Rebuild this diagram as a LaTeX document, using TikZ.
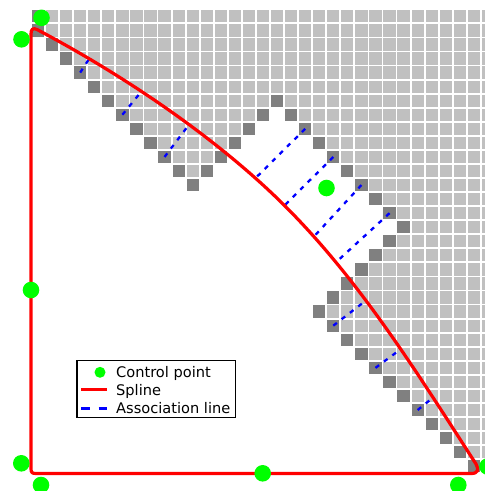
\documentclass[tikz,border=0pt]{standalone}
\usepackage{fontspec}
\setmainfont{DejaVu Sans}
\definecolor{cellgray}{RGB}{192,192,192}
\definecolor{edgegray}{RGB}{128,128,128}
\definecolor{ctrlgreen}{RGB}{0,255,0}
\definecolor{splinered}{RGB}{255,0,0}
\definecolor{assocblue}{RGB}{0,0,255}
% one grid cell: #1 = row, #2 = column
\newcommand\outercell[2]{\fill[cellgray] (#2+0.065,#1+0.065) rectangle (#2+0.935,#1+0.935);}
\newcommand\darkcell[2]{\fill[edgegray] (#2+0.065,#1+0.065) rectangle (#2+0.935,#1+0.935);}
\begin{document}
\begin{tikzpicture}[x=1pt,y=-1pt,
  spline/.style={draw=splinered, line width=3.2pt, line join=round, line cap=round},
  assoc/.style={draw=assocblue, line width=2.3pt, dash pattern=on 4.5pt off 6pt},
  ctrl/.style={circle, fill=ctrlgreen, inner sep=0pt, minimum size=16.6pt},
  legendframe/.style={draw=black, fill=white, line width=1.4pt},
  legendtext/.style={anchor=base west, inner sep=0pt, font=\fontsize{14.6}{17}\selectfont}]
\useasboundingbox (0,0) rectangle (485,491);
\clip (0,0) rectangle (485,491);
\fill[white] (0,0) rectangle (485,491);

% pixel grid: outside cells, inside region, boundary cells
\begin{scope}[shift={(31pt,-9.3pt)}, x=14.06pt, y=-14.06pt]
  \foreach \r in {0,...,32}{\foreach \c in {0,...,32}{\outercell{\r}{\c}}}
  \fill[white] (0,2)
    \foreach \k in {1,...,11}{ -- (\k,\k+1) -- (\k,\k+2)}
    -- (12,13) -- (12,12)
    \foreach \k in {13,...,17}{ -- (\k,25-\k) -- (\k,24-\k)}
    -- (18,7) -- (18,8)
    \foreach \k in {19,...,26}{ -- (\k,\k-11) -- (\k,\k-10)}
    \foreach \k in {25,24,23,22,21,20}{ -- (\k,41-\k) -- (\k,42-\k)}
    \foreach \k in {21,...,31}{ -- (\k,\k+1) -- (\k,\k+2)}
    -- (0,33) -- cycle;
  \darkcell{0}{0}
  \darkcell{1}{0}
  \foreach \r in {2,...,12}{\darkcell{\r}{\r-1}}
  \foreach \r in {6,...,11}{\darkcell{\r}{23-\r}}
  \foreach \r in {7,...,15}{\darkcell{\r}{\r+11}}
  \foreach \r in {16,...,21}{\darkcell{\r}{41-\r}}
  \foreach \r in {22,...,32}{\darkcell{\r}{\r-1}}
  % centres of the associated boundary cells
  \coordinate (cA) at (3.5,4.5);
  \coordinate (cB) at (6.5,7.5);
  \coordinate (cC) at (9.5,10.5);
  \coordinate (cD) at (19.5,8.5);
  \coordinate (cE) at (21.5,10.5);
  \coordinate (cF) at (23.5,12.5);
  \coordinate (cG) at (25.5,14.5);
  \coordinate (cH) at (21.5,22.5);
  \coordinate (cI) at (24.5,25.5);
  \coordinate (cJ) at (27.5,28.5);
\end{scope}

% feet of the association lines on the spline
\coordinate (fA) at (89,59);
\coordinate (fB) at (141,92);
\coordinate (fC) at (189.5,124);
\coordinate (fD) at (256,177.6);
\coordinate (fE) at (284,206);
\coordinate (fF) at (314,236.5);
\coordinate (fG) at (335.5,262.7);
\coordinate (fH) at (365.3,301);
\coordinate (fI) at (400.3,349.5);
\coordinate (fJ) at (433,397.6);
\foreach \p in {A,B,C,D,E,F,G,H,I,J}{\draw[assoc] (c\p) -- (f\p);}

% closed spline
\draw[spline] (31,468.5) -- (31,34)
  .. controls (31,29) and (33,27.6) .. (37,29.5)
  .. controls (137,82.5) and (225,146) .. (285,206)
  .. controls (360,281) and (416,371) .. (476,464)
  .. controls (479,469.5) and (478.5,473.5) .. (471,473.5)
  -- (36,473.5) .. controls (32,473.5) and (31,472.5) .. (31,468.5) -- cycle;

% control points
\node[ctrl] (p1) at (41.5,17.8) {};
\node[ctrl] (p2) at (21.5,39.3) {};
\node[ctrl] (p3) at (31,290) {};
\node[ctrl] (p4) at (21.3,463.3) {};
\node[ctrl] (p5) at (41,485) {};
\node[ctrl] (p6) at (262.7,473.3) {};
\node[ctrl] (p7) at (458.3,485) {};
\node[ctrl] (p8) at (487.5,466.5) {};
\node[ctrl] (p9) at (326.5,188) {};

% legend
\draw[legendframe] (77,360.5) rectangle (235.7,417.5);
\node[ctrl, minimum size=11pt] (lgctrl) at (100,372.3) {};
\coordinate (lgsa) at (81,389.5);
\coordinate (lgsb) at (106.5,389.5);
\draw[draw=splinered, line width=3pt] (lgsa) -- (lgsb);
\coordinate (lgaa) at (81,408.5);
\coordinate (lgab) at (106.5,408.5);
\draw[draw=assocblue, line width=2.8pt, dash pattern=on 9pt off 8.5pt] (lgaa) -- (lgab);
\node[legendtext] (lt1) at (116,377.6) {Control point};
\node[legendtext] (lt2) at (116,395.4) {Spline};
\node[legendtext] (lt3) at (116,413.5) {Association line};
\end{tikzpicture}
\end{document}
